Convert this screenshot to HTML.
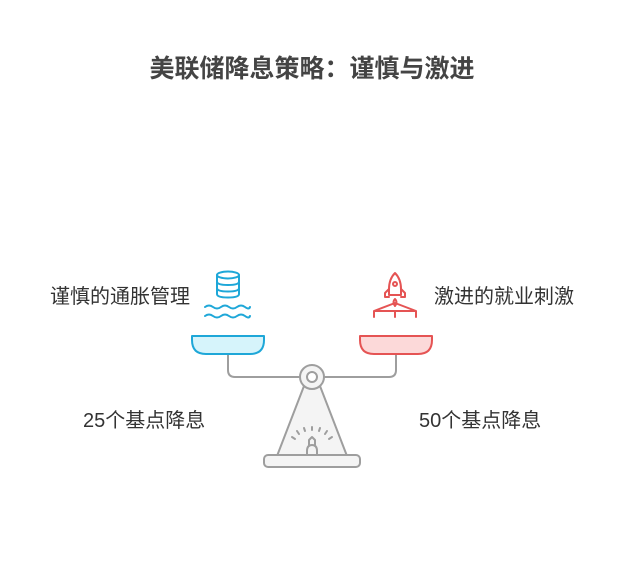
<!DOCTYPE html>
<html><head><meta charset="utf-8"><style>
body{margin:0;width:624px;height:576px;background:#fff;overflow:hidden;font-family:"Liberation Sans","Noto Sans CJK SC",sans-serif;}
.t{position:absolute;color:#333;font-size:20px;line-height:24px;white-space:nowrap;}
</style></head><body>
<div class="t" style="left:0;width:624px;text-align:center;top:54px;font-size:25px;line-height:30px;font-weight:bold;color:#444;">美联储降息策略：谨慎与激进</div>
<div class="t" style="left:50px;top:285px;">谨慎的通胀管理</div>
<div class="t" style="left:434px;top:285px;">激进的就业刺激</div>
<div class="t" style="left:83px;top:409px;">25个基点降息</div>
<div class="t" style="left:419px;top:409px;">50个基点降息</div>
<svg width="624" height="576" style="position:absolute;left:0;top:0" fill="none" stroke-linecap="round" stroke-linejoin="round">
<g stroke="#9e9e9e" stroke-width="2">
<path d="M228 354 V370 q0 7 7 7 H300 M324 377 H389 q7 0 7 -7 V354"/>
<path d="M304 386 L277 456 H347 L320 386" fill="#f4f4f4"/>
<rect x="264" y="455" width="96" height="12" rx="4" fill="#f4f4f4"/>
<circle cx="312" cy="377" r="12" fill="#f4f4f4"/>
<circle cx="312" cy="377" r="5" fill="#fff"/>
<path d="M307 455 v-4 q0 -6 5 -6 q5 0 5 6 v4 M309 445 v-5 l3 -3 l3 3 v5 M292 437 l3 2 M297 431 l2 3 M304 428 l1 3 M312 427 v3 M320 428 l-1 3 M327 431 l-2 3 M332 437 l-3 2"/>
</g>
<path d="M192 336 H264 V340 q0 14 -14 14 H206 q-14 0 -14 -14 Z" fill="#d6f4fb" stroke="#1ea7d8" stroke-width="2"/>
<path d="M360 336 H432 V340 q0 14 -14 14 H374 q-14 0 -14 -14 Z" fill="#fcd9d9" stroke="#e55454" stroke-width="2"/>
<g stroke="#1ea7d8" stroke-width="2">
<ellipse cx="228" cy="275" rx="11" ry="3.5"/>
<path d="M217 275 V294 q0 3.5 11 3.5 q11 0 11 -3.5 V275 M217 281.5 q0 3.5 11 3.5 q11 0 11 -3.5 M217 288 q0 3.5 11 3.5 q11 0 11 -3.5"/>
<path d="M205 307 q4 -3 8 0 t8 0 t8 0 t8 0 t8 0 t5 0 M205 316 q4 -3 8 0 t8 0 t8 0 t8 0 t8 0 t5 0"/>
</g>
<g stroke="#e55454" stroke-width="2">
<path d="M395 273 q-6 6 -6 16 v6 h12 v-6 q0 -10 -6 -16 Z"/>
<circle cx="395" cy="284" r="2"/>
<path d="M389 289 l-4 4 v4 h4 M401 289 l4 4 v4 h-4"/>
<path d="M395 299 q-3 3 0 7 q3 -4 0 -7"/>
<path d="M374 317 v-6 l21 -8 l21 8 v6 M374 311 h42 M395 311 v6"/>
</g>
</svg>
</body></html>
